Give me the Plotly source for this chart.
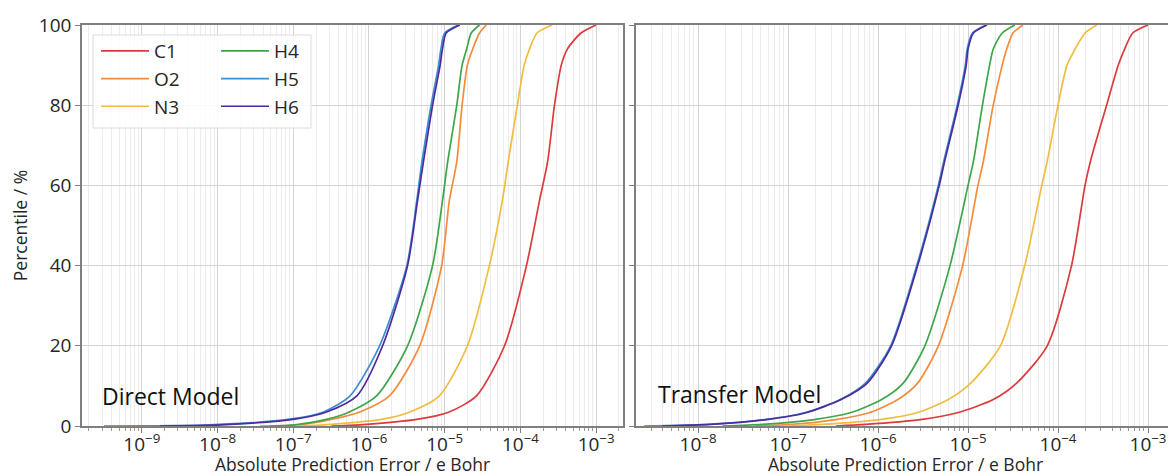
import numpy as np
import plotly.graph_objects as go

# ---------------- data (log10 of absolute prediction error, e Bohr) ----------------
series = ["C1", "O2", "N3", "H4", "H5", "H6"]
colors = ["#dc3a3c", "#f68b3b", "#f1bd40", "#3ea64a", "#3d8fd1", "#4b2c9e"]

pct_direct = [0, 0.3, 1.7, 3.5, 7.5, 20, 40, 56, 66, 80, 90, 94, 98, 100]
direct_C1 = [-6.50, -6.12, -5.35, -4.94, -4.58, -4.21, -3.92, -3.75, -3.64, -3.55, -3.46, -3.38, -3.20, -3.00]
direct_O2 = [-7.44, -6.92, -6.48, -6.12, -5.73, -5.33, -5.04, -4.94, -4.84, -4.77, -4.70, -4.63, -4.54, -4.45]
direct_N3 = [-7.05, -6.60, -5.82, -5.46, -5.07, -4.70, -4.41, -4.24, -4.16, -4.04, -3.95, -3.88, -3.78, -3.58]
direct_H4 = [-7.31, -6.98, -6.55, -6.26, -5.90, -5.49, -5.16, -5.03, -4.96, -4.84, -4.77, -4.71, -4.65, -4.54]
direct_H5 = [-9.50, -8.10, -7.05, -6.60, -6.25, -5.86, -5.50, -5.37, -5.30, -5.18, -5.08, -5.05, -5.00, -4.82]
direct_H6 = [-8.76, -7.95, -6.98, -6.56, -6.16, -5.82, -5.49, -5.36, -5.28, -5.16, -5.06, -5.03, -4.98, -4.80]

pct_transfer = [0, 0.4, 1.6, 3.3, 6.6, 10.7, 20, 40, 60, 66, 80, 90, 94, 98, 100]
transfer_C1 = [-6.47, -6.14, -5.53, -5.12, -4.72, -4.46, -4.12, -3.85, -3.70, -3.64, -3.46, -3.33, -3.26, -3.17, -3.00]
transfer_O2 = [-7.37, -6.96, -6.47, -6.10, -5.78, -5.56, -5.33, -5.06, -4.89, -4.83, -4.72, -4.62, -4.57, -4.50, -4.39]
transfer_N3 = [-7.04, -6.63, -5.98, -5.57, -5.22, -4.97, -4.64, -4.37, -4.18, -4.12, -4.00, -3.90, -3.81, -3.70, -3.57]
transfer_H4 = [-7.73, -7.29, -6.71, -6.31, -5.96, -5.72, -5.48, -5.20, -5.00, -4.94, -4.84, -4.76, -4.72, -4.62, -4.48]
transfer_H5 = [-8.60, -7.90, -7.26, -6.82, -6.42, -6.14, -5.86, -5.57, -5.33, -5.27, -5.12, -5.03, -5.01, -4.95, -4.80]
transfer_H6 = [-8.40, -7.86, -7.24, -6.80, -6.41, -6.12, -5.85, -5.56, -5.32, -5.26, -5.11, -5.02, -5.00, -4.94, -4.79]

direct = [direct_C1, direct_O2, direct_N3, direct_H4, direct_H5, direct_H6]
transfer = [transfer_C1, transfer_O2, transfer_N3, transfer_H4, transfer_H5, transfer_H6]

x_tick_exps = [-9, -8, -7, -6, -5, -4, -3]
y_ticks = [0, 20, 40, 60, 80, 100]
panel_labels = ["Direct Model", "Transfer Model"]
x_title = "Absolute Prediction Error / e Bohr"
y_title = "Percentile / %"

# ---------------- figure ----------------
# The page body has an 8 px margin, so the figure is placed at (8, 8) in the window.
OFF = 8
W, H = 1176 - OFF, 476 - OFF
ML = 82 - OFF          # left spine of left panel at page x = 82
MT = 25 - OFF          # top spine at page y = 25
MB = H - (426 - OFF)   # bottom spine at page y = 426
MR = 1
PW, PH = W - ML - MR, H - MT - MB
FONT = "Open Sans"
TXT = "#262626"

fig = go.Figure()
for i, name in enumerate(series):
    fig.add_trace(go.Scatter(
        x=np.power(10.0, direct[i]), y=pct_direct, mode="lines", name=name,
        line=dict(color=colors[i], width=1.7, shape="spline", smoothing=0.7),
        xaxis="x", yaxis="y",
        legend="legend" if i < 3 else "legend2", showlegend=True))
for i, name in enumerate(series):
    fig.add_trace(go.Scatter(
        x=np.power(10.0, transfer[i]), y=pct_transfer, mode="lines", name=name,
        line=dict(color=colors[i], width=1.7, shape="spline", smoothing=0.7),
        xaxis="x2", yaxis="y2", showlegend=False))

def dx(p):  # page pixel -> plot-area fraction
    return (p - OFF - ML) / PW

def dy(p):
    return 1 - (p - OFF - MT) / PH

tickvals = [10.0 ** e for e in x_tick_exps]
ticktext = ["10<sup>\u2212%d</sup>" % (-e) for e in x_tick_exps]
minor_vals = [k * 10.0 ** e for e in range(-10, -2) for k in range(2, 10)]

common_x = dict(
    type="log", tickmode="array", tickvals=tickvals, ticktext=ticktext,
    showline=True, mirror=True, linecolor="#7f7f7f", linewidth=1.5,
    ticks="outside", ticklen=5, tickcolor="#7f7f7f", tickwidth=1,
    ticklabelstandoff=-5,
    showgrid=True, gridcolor="#d4d4d4", gridwidth=1,
    minor=dict(tickmode="array", tickvals=minor_vals, ticks="outside", ticklen=3,
               tickcolor="#9a9a9a", showgrid=True, gridcolor="#ececec", gridwidth=1),
    tickfont=dict(family=FONT, size=19, color=TXT),
    title=dict(text=x_title, font=dict(family=FONT, size=17.5, color=TXT), standoff=11),
    zeroline=False, automargin=False,
)
common_y = dict(
    range=[0, 100], tickmode="array", tickvals=y_ticks,
    showline=True, mirror=True, linecolor="#7f7f7f", linewidth=1.5,
    ticks="outside", ticklen=5, tickcolor="#7f7f7f",
    showgrid=True, gridcolor="#d4d4d4", gridwidth=1,
    tickfont=dict(family=FONT, size=19, color=TXT),
    zeroline=False, automargin=False,
)

fig.update_layout(
    width=W, height=H, margin=dict(l=ML, r=MR, t=MT, b=MB, autoexpand=False),
    paper_bgcolor="white", plot_bgcolor="white",
    font=dict(family=FONT, color=TXT),
    xaxis=dict(common_x, domain=[0, dx(623)], range=[-9.79, -2.645], anchor="y"),
    yaxis=dict(common_y, domain=[0, 1], anchor="x",
               title=dict(text=y_title, font=dict(family=FONT, size=17.5, color=TXT), standoff=8)),
    xaxis2=dict(common_x, domain=[dx(636), 1], range=[-8.69, -2.70], anchor="y2"),
    yaxis2=dict(common_y, domain=[0, 1], anchor="x2", showticklabels=False),
    legend=dict(x=dx(96), y=dy(32), xanchor="left", yanchor="top",
                bgcolor="rgba(0,0,0,0)", borderwidth=0, itemwidth=48,
                font=dict(family=FONT, size=19, color=TXT), tracegroupgap=0),
    legend2=dict(x=dx(216), y=dy(32), xanchor="left", yanchor="top",
                 bgcolor="rgba(0,0,0,0)", borderwidth=0, itemwidth=48,
                 font=dict(family=FONT, size=19, color=TXT), tracegroupgap=0),
    showlegend=True,
)

fig.add_shape(type="rect", xref="paper", yref="paper",
              x0=dx(93), x1=dx(311), y0=dy(128), y1=dy(35),
              line=dict(color="#dcdcdc", width=1), fillcolor="rgba(255,255,255,0.85)",
              layer="above")

fig.add_annotation(text=panel_labels[0], xref="x domain", yref="y domain",
                   x=0.033, y=0.075, xanchor="left", yanchor="middle", showarrow=False,
                   font=dict(family=FONT, size=23, color="#111"))
fig.add_annotation(text=panel_labels[1], xref="x2 domain", yref="y2 domain",
                   x=0.037, y=0.08, xanchor="left", yanchor="middle", showarrow=False,
                   font=dict(family=FONT, size=23, color="#111"))

fig.write_html("out.html")
